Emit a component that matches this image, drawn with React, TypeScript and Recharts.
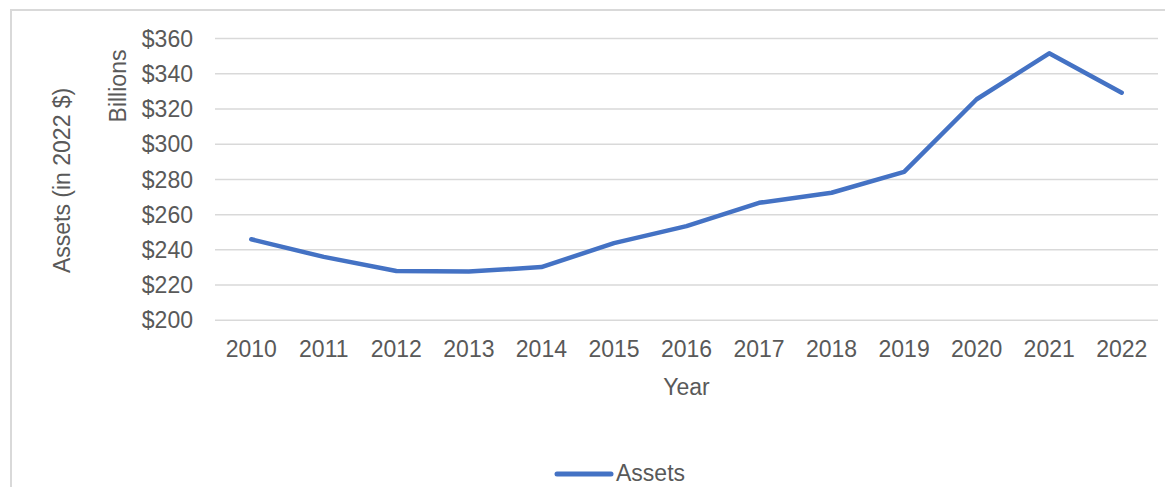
import React from 'react';
import {
    CartesianGrid,
    Label,
    Legend,
    Line,
    LineChart,
    XAxis,
    YAxis,
} from 'recharts';

const years = ['2010', '2011', '2012', '2013', '2014', '2015', '2016', '2017', '2018', '2019', '2020', '2021', '2022'];
const assets = [246, 236, 228, 227.7, 230.2, 243.8, 253.5, 266.7, 272.4, 284.3, 325.5, 351.6, 329.2];
const yTicks = [200, 220, 240, 260, 280, 300, 320, 340, 360];

const data = years.map((year, i) => ({year, assets: assets[i]}));

const FONT = '"Liberation Sans", Arial, sans-serif';
const TEXT = '#595959';
const BLUE = '#4472C4';
const GRID = '#d9d9d9';

const YTitles = ({viewBox}: any) => {
    const {x, y, height} = viewBox;
    const cy = y + height / 2 + 1;
    return (
        <g fill={TEXT} fontFamily={FONT} fontSize={23}>
            <text x={x - 73} y={cy} textAnchor="middle" dominantBaseline="central"
                  transform={`rotate(-90, ${x - 73}, ${cy})`}>Assets (in 2022 $)</text>
            <text x={x - 17} y={78} textAnchor="middle" dominantBaseline="central"
                  transform={`rotate(-90, ${x - 17}, 78)`}>Billions</text>
        </g>
    );
};

const LegendContent = () => (
    <div style={{display: 'flex', alignItems: 'center', fontFamily: FONT, fontSize: 23, color: TEXT}}>
        <svg width={60} height={10}>
            <line x1={3} y1={5} x2={57} y2={5} stroke={BLUE} strokeWidth={5} strokeLinecap="round"/>
        </svg>
        <span style={{marginLeft: 2}}>Assets</span>
    </div>
);

export default function App() {
    return (
        <div style={{position: 'relative', width: 1165, height: 479, overflow: 'hidden'}}>
            <div style={{
                position: 'absolute', left: 2, top: 1, width: 1400, height: 700,
                borderLeft: `2px solid ${GRID}`, borderTop: `2px solid ${GRID}`,
            }}/>
            <LineChart
                width={1165}
                height={479}
                data={data}
                margin={{top: 30.5, right: 15, bottom: 80, left: 127}}
                style={{position: 'absolute', left: 0, top: 0}}
            >
                <CartesianGrid vertical={false} stroke={GRID} strokeWidth={1.5}/>
                <XAxis
                    dataKey="year"
                    scale="band"
                    axisLine={false}
                    tickLine={false}
                    tickSize={0}
                    tickMargin={20}
                    height={86.7}
                    tick={{fill: TEXT, fontSize: 23, fontFamily: FONT}}
                >
                    <Label value="Year" position="insideTop" offset={58}
                           style={{fill: TEXT, fontSize: 23, fontFamily: FONT}}/>
                </XAxis>
                <YAxis
                    domain={[200, 360]}
                    ticks={yTicks}
                    width={80}
                    axisLine={false}
                    tickLine={false}
                    tickSize={0}
                    tickMargin={22}
                    tickFormatter={(v: number) => `$${v}`}
                    tick={{fill: TEXT, fontSize: 23, fontFamily: FONT}}
                >
                    <Label content={YTitles}/>
                </YAxis>
                <Legend
                    layout="horizontal"
                    verticalAlign="middle"
                    content={LegendContent}
                    wrapperStyle={{top: 452, left: 546, width: 'auto'}}
                />
                <Line
                    dataKey="assets"
                    stroke={BLUE}
                    strokeWidth={4.5}
                    strokeLinecap="round"
                    strokeLinejoin="round"
                    dot={false}
                    activeDot={false}
                    isAnimationActive={false}
                />
            </LineChart>
        </div>
    );
}
